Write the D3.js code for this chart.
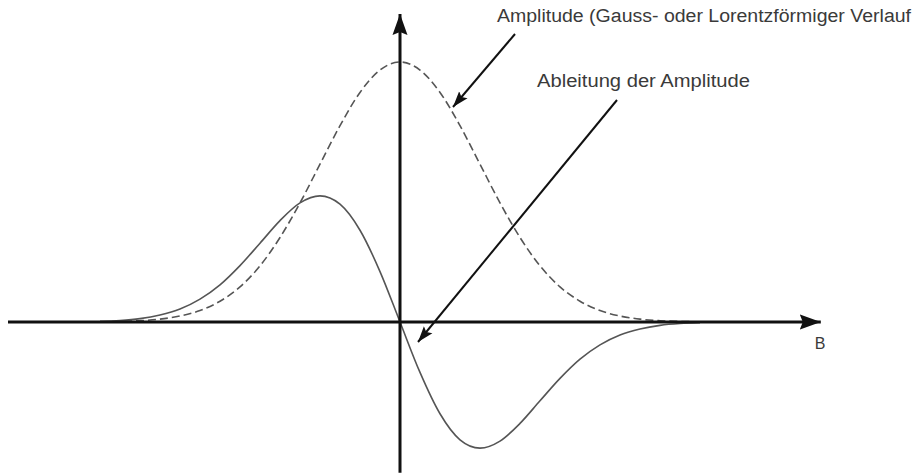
<!DOCTYPE html>
<html>
<head>
<meta charset="utf-8">
<script src="https://cdn.jsdelivr.net/npm/d3@7"></script>
<style>
    html, body { margin: 0; padding: 0; background: #fff; }
    svg { display: block; }
    .label { font-family: "Century Gothic", "URW Gothic", "Liberation Sans", Arial, sans-serif; fill: #3a3a3a; }
</style>
</head>
<body>
<div id="chart"></div>
<script>
// field values B (in units of the line width)
const bValues = [-3.75, -3.5, -3.25, -3.0, -2.75, -2.5, -2.25, -2.0, -1.75, -1.5, -1.25, -1.0, -0.75, -0.5, -0.25,
    0, 0.25, 0.5, 0.75, 1.0, 1.25, 1.5, 1.75, 2.0, 2.25, 2.5, 2.75, 3.0, 3.25, 3.5, 3.75];

// amplitude (dashed), peak normalised to 1
const amplitude = [0.001, 0.002, 0.005, 0.011, 0.023, 0.044, 0.080, 0.135, 0.216, 0.325, 0.458, 0.607, 0.755, 0.883, 0.969,
    1.0, 0.969, 0.883, 0.755, 0.607, 0.458, 0.325, 0.216, 0.135, 0.080, 0.044, 0.023, 0.011, 0.005, 0.002, 0.001];

// derivative of the amplitude (solid)
const derivative = [0.003, 0.006, 0.013, 0.027, 0.050, 0.088, 0.143, 0.217, 0.303, 0.390, 0.458, 0.485, 0.453, 0.353, 0.194,
    0, -0.194, -0.353, -0.453, -0.485, -0.458, -0.390, -0.303, -0.217, -0.143, -0.088, -0.050, -0.027, -0.013, -0.006, -0.003];

const labels = {
    amplitude: "Amplitude (Gauss- oder Lorentzförmiger Verlauf",
    derivative: "Ableitung der Amplitude",
    axis: "B"
};

const width = 922, height = 474;

const svg = d3.select("#chart").append("svg")
    .attr("width", width)
    .attr("height", height);

const x = d3.scaleLinear().domain([-1, 1]).range([320, 480]);
const y = d3.scaleLinear().domain([0, 1]).range([322, 62]);

// arrow heads
const defs = svg.append("defs");
defs.append("marker")
    .attr("id", "axisHead")
    .attr("markerUnits", "userSpaceOnUse")
    .attr("viewBox", "0 0 21 16")
    .attr("refX", 21).attr("refY", 8)
    .attr("markerWidth", 21).attr("markerHeight", 16)
    .attr("orient", "auto")
    .append("path")
    .attr("d", "M0,0.5 L21,8 L0,15.5 L3,8 Z")
    .attr("fill", "#111");
defs.append("marker")
    .attr("id", "pointerHead")
    .attr("markerUnits", "userSpaceOnUse")
    .attr("viewBox", "0 0 16 12")
    .attr("refX", 16).attr("refY", 6)
    .attr("markerWidth", 16).attr("markerHeight", 12)
    .attr("orient", "auto")
    .append("path")
    .attr("d", "M0,0.5 L16,6 L0,11.5 L3,6 Z")
    .attr("fill", "#111");

// curves
const line = d3.line()
    .x((d) => x(d[0]))
    .y((d) => y(d[1]))
    .curve(d3.curveMonotoneX);

svg.append("path")
    .datum(d3.zip(bValues, amplitude))
    .attr("d", line)
    .attr("fill", "none")
    .attr("stroke", "#555")
    .attr("stroke-width", 1.6)
    .attr("stroke-dasharray", "8,4");

svg.append("path")
    .datum(d3.zip(bValues, derivative))
    .attr("d", line)
    .attr("fill", "none")
    .attr("stroke", "#555")
    .attr("stroke-width", 1.6);

// axes
svg.append("line")
    .attr("x1", x(-4.9)).attr("y1", y(0))
    .attr("x2", x(5.26)).attr("y2", y(0))
    .attr("stroke", "#111")
    .attr("stroke-width", 3)
    .attr("marker-end", "url(#axisHead)");

svg.append("line")
    .attr("x1", x(0)).attr("y1", y(-0.58))
    .attr("x2", x(0)).attr("y2", y(1.185))
    .attr("stroke", "#111")
    .attr("stroke-width", 3)
    .attr("marker-end", "url(#axisHead)");

svg.append("text")
    .attr("class", "label")
    .attr("x", x(5.25)).attr("y", 349)
    .attr("text-anchor", "middle")
    .attr("font-size", 16)
    .text(labels.axis);

// annotations
svg.append("text")
    .attr("class", "label")
    .attr("x", 497).attr("y", 22)
    .attr("font-size", 18)
    .attr("textLength", 414)
    .attr("lengthAdjust", "spacingAndGlyphs")
    .text(labels.amplitude);

svg.append("text")
    .attr("class", "label")
    .attr("x", 537).attr("y", 87)
    .attr("font-size", 18)
    .attr("textLength", 213)
    .attr("lengthAdjust", "spacingAndGlyphs")
    .text(labels.derivative);

svg.append("line")
    .attr("x1", 515).attr("y1", 34)
    .attr("x2", 453).attr("y2", 107)
    .attr("stroke", "#111")
    .attr("stroke-width", 2)
    .attr("marker-end", "url(#pointerHead)");

svg.append("line")
    .attr("x1", 617).attr("y1", 100)
    .attr("x2", 418).attr("y2", 342)
    .attr("stroke", "#111")
    .attr("stroke-width", 2)
    .attr("marker-end", "url(#pointerHead)");
</script>
</body>
</html>
